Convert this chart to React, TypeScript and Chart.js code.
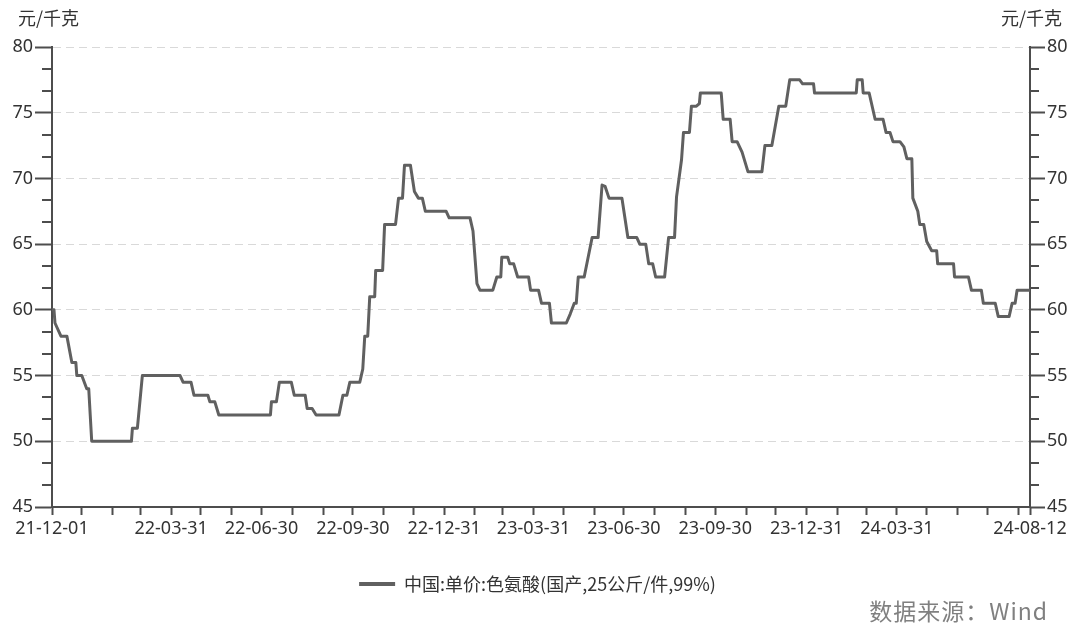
import React, { useEffect, useRef } from 'react';
import { Chart, registerables } from 'chart.js';

Chart.register(...registerables);

const SERIES_NAME = '中国:单价:色氨酸(国产,25公斤/件,99%)';
const UNIT = '元/千克';
const SOURCE = '数据来源：Wind';
const START_DATE = '2021-12-01';
const END_DATE = '2024-08-12';
const X_TICK_LABELS = [
  '21-12-01', '22-03-31', '22-06-30', '22-09-30', '22-12-31', '23-03-31',
  '23-06-30', '23-09-30', '23-12-31', '24-03-31', '24-08-12',
];
const Y_MIN = 45;
const Y_MAX = 80;
const Y_STEP = 5;
const Y_MINOR_PER_MAJOR = 3;

const DATES = [
  '2021-12-01', '2021-12-03', '2021-12-04', '2021-12-10', '2021-12-16', '2021-12-21', '2021-12-25', '2021-12-26',
  '2021-12-31', '2022-01-05', '2022-01-07', '2022-01-10', '2022-02-19', '2022-02-20', '2022-02-25', '2022-03-02',
  '2022-04-09', '2022-04-12', '2022-04-20', '2022-04-23', '2022-05-07', '2022-05-09', '2022-05-14', '2022-05-18',
  '2022-07-09', '2022-07-10', '2022-07-15', '2022-07-18', '2022-07-30', '2022-08-02', '2022-08-13', '2022-08-15',
  '2022-08-20', '2022-08-24', '2022-09-16', '2022-09-20', '2022-09-24', '2022-09-27', '2022-10-07', '2022-10-10',
  '2022-10-12', '2022-10-15', '2022-10-17', '2022-10-22', '2022-10-23', '2022-10-30', '2022-11-01', '2022-11-12',
  '2022-11-15', '2022-11-19', '2022-11-21', '2022-11-27', '2022-12-01', '2022-12-05', '2022-12-09', '2022-12-12',
  '2023-01-02', '2023-01-05', '2023-01-26', '2023-01-29', '2023-02-02', '2023-02-05', '2023-02-18', '2023-02-22',
  '2023-02-26', '2023-02-27', '2023-03-05', '2023-03-07', '2023-03-11', '2023-03-15', '2023-03-26', '2023-03-28',
  '2023-04-05', '2023-04-08', '2023-04-16', '2023-04-18', '2023-05-03', '2023-05-07', '2023-05-11', '2023-05-13',
  '2023-05-15', '2023-05-21', '2023-05-29', '2023-06-04', '2023-06-08', '2023-06-11', '2023-06-15', '2023-06-28',
  '2023-06-30', '2023-07-04', '2023-07-13', '2023-07-16', '2023-07-22', '2023-07-25', '2023-07-29', '2023-08-01',
  '2023-08-10', '2023-08-14', '2023-08-20', '2023-08-22', '2023-08-27', '2023-08-29', '2023-09-04', '2023-09-06',
  '2023-09-11', '2023-09-14', '2023-09-15', '2023-10-06', '2023-10-08', '2023-10-15', '2023-10-17', '2023-10-22',
  '2023-10-27', '2023-11-02', '2023-11-16', '2023-11-19', '2023-11-26', '2023-12-03', '2023-12-10', '2023-12-14',
  '2023-12-24', '2023-12-27', '2024-01-07', '2024-01-08', '2024-02-19', '2024-02-20', '2024-02-25', '2024-02-26',
  '2024-03-03', '2024-03-09', '2024-03-17', '2024-03-20', '2024-03-24', '2024-03-27', '2024-04-03', '2024-04-07',
  '2024-04-10', '2024-04-15', '2024-04-16', '2024-04-21', '2024-04-23', '2024-04-27', '2024-04-30', '2024-05-05',
  '2024-05-10', '2024-05-11', '2024-05-27', '2024-05-28', '2024-06-11', '2024-06-14', '2024-06-24', '2024-06-26',
  '2024-07-08', '2024-07-11', '2024-07-22', '2024-07-25', '2024-07-28', '2024-07-30', '2024-08-12',
];

const VALUES = [
  60, 60, 59, 58, 58, 56, 56, 55,
  55, 54, 54, 50, 50, 51, 51, 55,
  55, 54.5, 54.5, 53.5, 53.5, 53, 53, 52,
  52, 53, 53, 54.5, 54.5, 53.5, 53.5, 52.5,
  52.5, 52, 52, 53.5, 53.5, 54.5, 54.5, 55.5,
  58, 58, 61, 61, 63, 63, 66.5, 66.5,
  68.5, 68.5, 71, 71, 69, 68.5, 68.5, 67.5,
  67.5, 67, 67, 66, 62, 61.5, 61.5, 62.5,
  62.5, 64, 64, 63.5, 63.5, 62.5, 62.5, 61.5,
  61.5, 60.5, 60.5, 59, 59, 59.7, 60.5, 60.5,
  62.5, 62.5, 65.5, 65.5, 69.5, 69.4, 68.5, 68.5,
  67.5, 65.5, 65.5, 65, 65, 63.5, 63.5, 62.5,
  62.5, 65.5, 65.5, 68.6, 71.4, 73.5, 73.5, 75.5,
  75.5, 75.7, 76.5, 76.5, 74.5, 74.5, 72.8, 72.8,
  72, 70.5, 70.5, 72.5, 72.5, 75.5, 75.5, 77.5,
  77.5, 77.2, 77.2, 76.5, 76.5, 77.5, 77.5, 76.5,
  76.5, 74.5, 74.5, 73.5, 73.5, 72.8, 72.8, 72.4,
  71.5, 71.5, 68.5, 67.5, 66.5, 66.5, 65.2, 64.5,
  64.5, 63.5, 63.5, 62.5, 62.5, 61.5, 61.5, 60.5,
  60.5, 59.5, 59.5, 60.5, 60.5, 61.5, 61.5,
];

const LINE_COLOR = '#606060';
const AXIS_COLOR = '#4d4d4d';
const TEXT_COLOR = '#333333';
const GRID_COLOR = '#d9d9d9';
const LATIN_FONT = '"Noto Sans", "Open Sans", "Noto Sans CJK SC", sans-serif';
const CJK_FONT = '"Noto Sans CJK SC", "Noto Sans", sans-serif';

function parseDate(s: string) {
  const [y, m, d] = s.split('-').map(Number);
  return Date.UTC(y, m - 1, d);
}
const T0 = parseDate(START_DATE);
const dayOf = (s: string) => Math.round((parseDate(s) - T0) / 86400000);
const fmtShort = (t: number) => {
  const d = new Date(t);
  const yy = String(d.getUTCFullYear()).slice(2);
  const mm = String(d.getUTCMonth() + 1).padStart(2, '0');
  const dd = String(d.getUTCDate()).padStart(2, '0');
  return `${yy}-${mm}-${dd}`;
};

// tick positions: start, every month end, end
function buildXTicks() {
  const endT = parseDate(END_DATE);
  const ticks: { value: number; label: string }[] = [{ value: 0, label: fmtShort(T0) }];
  const s = new Date(T0);
  let y = s.getUTCFullYear();
  let m = s.getUTCMonth();
  while (true) {
    const me = Date.UTC(y, m + 1, 0);
    if (me >= endT) break;
    if (me > T0) ticks.push({ value: Math.round((me - T0) / 86400000), label: fmtShort(me) });
    m++;
    if (m > 11) { m = 0; y++; }
  }
  ticks.push({ value: Math.round((endT - T0) / 86400000), label: fmtShort(endT) });
  return ticks;
}

const minorTickPlugin = {
  id: 'minorTicks',
  afterDraw(chart: any) {
    const ctx = chart.ctx;
    const minorStep = Y_STEP / Y_MINOR_PER_MAJOR;
    ctx.save();
    ctx.strokeStyle = AXIS_COLOR;
    ctx.lineWidth = 2;
    [['y', -1, 10], ['y1', 1, 9]].forEach(([id, dir, len]: any) => {
      const s = chart.scales[id];
      if (!s) return;
      const x0 = dir < 0 ? s.right : s.left;
      const n = Math.round((Y_MAX - Y_MIN) / minorStep);
      for (let k = 0; k <= n; k++) {
        if (k % Y_MINOR_PER_MAJOR === 0) continue;
        const v = Y_MIN + k * minorStep;
        const py = Math.round(s.getPixelForValue(v));
        ctx.beginPath();
        ctx.moveTo(x0, py);
        ctx.lineTo(x0 + dir * len, py);
        ctx.stroke();
      }
    });
    ctx.restore();
  },
};

export default function App() {
  const canvasRef = useRef<HTMLCanvasElement | null>(null);

  useEffect(() => {
    const canvas = canvasRef.current;
    if (!canvas) return;
    const xTicks = buildXTicks();
    const points = DATES.map((d, i) => ({ x: dayOf(d), y: VALUES[i] }));
    const xMax = dayOf(END_DATE);

    const tickFont = { family: LATIN_FONT, size: 18 };

    const chart = new Chart(canvas, {
      type: 'line',
      data: {
        datasets: [
          {
            label: SERIES_NAME,
            data: points,
            borderColor: LINE_COLOR,
            backgroundColor: LINE_COLOR,
            borderWidth: 3,
            pointRadius: 0,
            tension: 0,
            borderJoinStyle: 'round',
            yAxisID: 'y',
          },
        ],
      },
      options: {
        animation: false,
        responsive: false,
        maintainAspectRatio: false,
        layout: { padding: { top: 47, left: 0, right: 0, bottom: 23 } },
        plugins: {
          tooltip: { enabled: false },
          legend: {
            position: 'bottom',
            labels: {
              boxWidth: 36,
              boxHeight: 4,
              padding: 10,
              color: TEXT_COLOR,
              font: { family: CJK_FONT, size: 18 },
              generateLabels: (c: any) =>
                Chart.defaults.plugins.legend.labels
                  .generateLabels(c)
                  .map((l: any) => ({ ...l, lineWidth: 0, fillStyle: LINE_COLOR, strokeStyle: LINE_COLOR })),
            },
          },
        },
        scales: {
          x: {
            type: 'linear',
            min: 0,
            max: xMax,
            afterFit: (s: any) => { s.height = 58; },
            afterBuildTicks: (s: any) => {
              s.ticks = xTicks.map((t) => ({ value: t.value }));
            },
            grid: {
              drawOnChartArea: false,
              drawTicks: true,
              tickLength: 8,
              tickColor: AXIS_COLOR,
              tickWidth: 2,
            },
            border: { display: true, color: AXIS_COLOR, width: 2 },
            ticks: {
              autoSkip: false,
              maxRotation: 0,
              minRotation: 0,
              padding: 3,
              color: TEXT_COLOR,
              font: tickFont,
              callback: (v: any) => {
                const t = xTicks.find((k) => k.value === v);
                return t && X_TICK_LABELS.includes(t.label) ? t.label : '';
              },
            },
          },
          y: {
            type: 'linear',
            position: 'left',
            min: Y_MIN,
            max: Y_MAX,
            afterFit: (s: any) => { s.width = 52; },
            grid: {
              drawOnChartArea: true,
              drawTicks: true,
              tickLength: 17,
              tickColor: AXIS_COLOR,
              tickWidth: 2,
              color: GRID_COLOR,
              lineWidth: 1,
            },
            border: { display: true, color: AXIS_COLOR, width: 2, dash: [8, 5] },
            ticks: {
              stepSize: Y_STEP,
              padding: 2,
              color: TEXT_COLOR,
              font: tickFont,
            },
          },
          y1: {
            type: 'linear',
            position: 'right',
            min: Y_MIN,
            max: Y_MAX,
            afterFit: (s: any) => { s.width = 45; },
            grid: {
              drawOnChartArea: false,
              drawTicks: true,
              tickLength: 15,
              tickColor: AXIS_COLOR,
              tickWidth: 2,
            },
            border: { display: true, color: AXIS_COLOR, width: 2 },
            ticks: {
              stepSize: Y_STEP,
              padding: 2,
              color: TEXT_COLOR,
              font: tickFont,
            },
          },
        },
      },
      plugins: [minorTickPlugin],
    } as any);

    return () => chart.destroy();
  }, []);

  return (
    <div style={{ position: 'absolute', left: 0, top: 0, width: 1075, height: 626, background: '#fff', overflow: 'hidden' }}>
      <canvas ref={canvasRef} width={1075} height={626} style={{ position: 'absolute', left: 0, top: 0 }} />
      <div style={{ position: 'absolute', left: 18, top: 4, fontFamily: CJK_FONT, fontSize: 18, lineHeight: '26px', color: TEXT_COLOR }}>{UNIT}</div>
      <div style={{ position: 'absolute', right: 13, top: 4, fontFamily: CJK_FONT, fontSize: 18, lineHeight: '26px', color: TEXT_COLOR }}>{UNIT}</div>
      <div style={{ position: 'absolute', right: 27, top: 594, fontFamily: CJK_FONT, fontSize: 23, lineHeight: '32px', letterSpacing: 1, color: '#808080' }}>{SOURCE}</div>
    </div>
  );
}
